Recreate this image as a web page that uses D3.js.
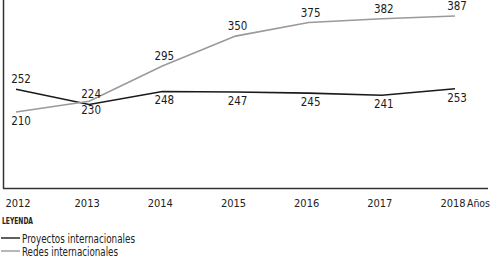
<!DOCTYPE html>
<html><head><meta charset="utf-8">
<script src="https://cdn.jsdelivr.net/npm/d3@7"></script>
<style>
html,body{margin:0;padding:0;background:#fff;}
svg{display:block;font-family:"DejaVu Sans Condensed","DejaVu Sans",sans-serif;}
</style></head>
<body><svg id="c" width="492" height="259"></svg>
<script>
const years = ["2012","2013","2014","2015","2016","2017","2018"];
const proyectos = [252,224,248,247,245,241,253];
const redes = [210,230,295,350,375,382,387];
const proyectosLabelSide = ["above","above","below","below","below","below","below"];
const redesLabelSide = ["below","below","above","above","above","above","above"];
const seriesNames = ["Proyectos internacionales","Redes internacionales"];
const legendTitle = "LEYENDA";
const axisUnit = "Años";

const FONT = "DejaVu Sans Condensed, DejaVu Sans, sans-serif";
const svg = d3.select("#c");
const x = d3.scalePoint().domain(years).range([16, 455]);
const y = d3.scaleLinear().domain([70, 400]).range([188, 9]);

// axes lines
svg.append("line").attr("x1",3.5).attr("x2",3.5).attr("y1",0).attr("y2",188.5)
  .attr("stroke","#333").attr("stroke-width",1.5);
svg.append("line").attr("x1",3).attr("x2",488).attr("y1",188.5).attr("y2",188.5)
  .attr("stroke","#333").attr("stroke-width",1.5);

// x tick labels
const xa = svg.append("g").attr("transform","translate(0,188)")
  .call(d3.axisBottom(x).tickSize(0).tickPadding(10));
xa.select(".domain").remove();
xa.selectAll("text").attr("font-size",11).attr("fill","#222")
  .attr("font-family",FONT).attr("dy",0).attr("y",19);
xa.selectAll(".tick").attr("transform",(d,i)=>`translate(${x(d)+ (i===0?2:-2)},0)`);
svg.append("text").attr("x",467).attr("y",207).attr("font-size",11).attr("fill","#222")
  .attr("textLength",23).attr("lengthAdjust","spacingAndGlyphs").text(axisUnit);

const line = d3.line().x((d,i)=>x(years[i])).y(d=>y(d));
const series = [
  {vals:proyectos, color:"#1a1a1a", sides:proyectosLabelSide},
  {vals:redes, color:"#9a9a9a", sides:redesLabelSide}
];
series.forEach(s=>{
  svg.append("path").datum(s.vals).attr("d",line).attr("fill","none")
    .attr("stroke",s.color).attr("stroke-width",1.6);
});
series.forEach(s=>{
  svg.append("g").selectAll("text").data(s.vals).join("text")
    .attr("x",(d,i)=>x(years[i]) + (i===0?5:2))
    .attr("y",(d,i)=> s.sides[i]==="above" ? y(d)-6 : y(d)+13)
    .attr("text-anchor","middle").attr("font-size",11.5).attr("fill","#1a1a1a")
    .text(d=>d);
});

// legend
svg.append("text").attr("x",2).attr("y",224).attr("font-size",9).attr("font-weight","bold")
  .attr("fill","#222").attr("textLength",31).attr("lengthAdjust","spacingAndGlyphs").text(legendTitle);
const lg = svg.append("g").selectAll("g").data(seriesNames).join("g")
  .attr("transform",(d,i)=>`translate(0,${238+i*13})`);
lg.append("line").attr("x1",1).attr("x2",20).attr("y1",0).attr("y2",0)
  .attr("stroke",(d,i)=>series[i].color).attr("stroke-width",1.4);
lg.append("text").attr("x",22).attr("y",4.5).attr("font-size",11.5).attr("fill","#222")
  .attr("textLength",(d,i)=>[113,96][i]).attr("lengthAdjust","spacingAndGlyphs").text(d=>d);
</script></body></html>
